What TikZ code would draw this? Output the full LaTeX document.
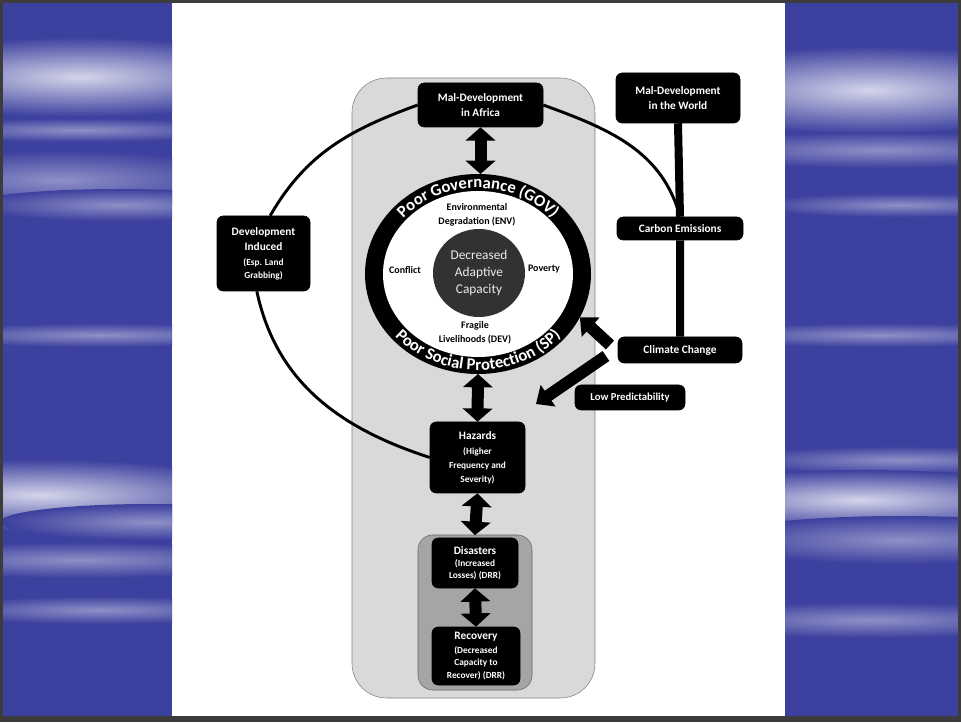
\documentclass[tikz,border=0pt]{standalone}
\usepackage{fontspec}
\setmainfont{Carlito}
\usetikzlibrary{arrows.meta,shapes.geometric,decorations.text}
\definecolor{panelblue}{RGB}{60,64,158}
\definecolor{framegray}{RGB}{60,60,60}
\definecolor{boxgray}{RGB}{217,217,217}
\definecolor{innergray}{RGB}{165,165,165}
\definecolor{coregray}{RGB}{50,50,50}
\newcommand{\headfont}{\fontsize{8.5}{11.5}\selectfont\bfseries}
\newcommand{\subfont}{\fontsize{7}{9}\selectfont\bfseries}
\newcommand{\labfont}{\fontsize{7.5}{10.5}\selectfont\bfseries}
\newcommand{\ringfont}{\fontsize{12.5}{14}\selectfont\bfseries}
\tikzset{
  blackbox/.style={draw=black, fill=black, text=white, rounded corners=4.5pt, align=center, inner sep=1pt, font=\headfont},
  dblarrow/.style={line width=9pt, {Triangle[length=10pt,width=22pt]}-{Triangle[length=10pt,width=22pt]}},
  sglarrow/.style={line width=9pt, -{Triangle[length=11pt,width=19pt]}},
  loopline/.style={line width=2.2pt},
  streak/.style={inner color=white!78!panelblue, outer color=panelblue},
  faint/.style={inner color=white!42!panelblue, outer color=panelblue},
  ringlabel/.style={font=\labfont, align=center, inner sep=0pt},
}
\begin{document}
\begin{tikzpicture}[x=0.75pt, y=0.75pt]
\useasboundingbox (0,0) rectangle (961,722);
% slide background
\fill[framegray] (0,0) rectangle (961,722);
\fill[panelblue] (3,6) rectangle (172,719);
\fill[panelblue] (785,6) rectangle (958,719);
\fill[white] (172,6) rectangle (785,719);
\begin{scope}
  \clip (3,6) rectangle (172,719);
  \shade[streak] (80,645) ellipse [x radius=220, y radius=40];
  \shade[faint] (80,592) ellipse [x radius=170, y radius=12];
  \shade[faint] (60,542) ellipse [x radius=190, y radius=30];
  \shade[faint] (120,517) ellipse [x radius=150, y radius=16];
  \shade[faint] (100,387) ellipse [x radius=190, y radius=12];
  \shade[streak] (40,227) ellipse [x radius=230, y radius=36];
  \shade[faint] (150,200) ellipse [x radius=150, y radius=18];
  \shade[faint] (80,162) ellipse [x radius=210, y radius=18];
  \shade[faint] (100,112) ellipse [x radius=170, y radius=14];
\end{scope}
\begin{scope}
  \clip (785,6) rectangle (958,719);
  \shade[streak] (870,632) ellipse [x radius=220, y radius=44];
  \shade[faint] (880,572) ellipse [x radius=200, y radius=18];
  \shade[faint] (900,517) ellipse [x radius=150, y radius=12];
  \shade[faint] (880,387) ellipse [x radius=190, y radius=12];
  \shade[faint] (900,262) ellipse [x radius=170, y radius=14];
  \shade[streak] (860,222) ellipse [x radius=220, y radius=30];
  \shade[faint] (900,182) ellipse [x radius=190, y radius=24];
  \shade[faint] (870,102) ellipse [x radius=200, y radius=18];
\end{scope}
% panels
\draw[gray, fill=boxgray, rounded corners=26pt] (352,24) rectangle (595,644);
\draw[black!60, fill=innergray, rounded corners=11pt] (418,32) rectangle (532,187);
% ring
\node[ellipse, fill=black, minimum width=169.5pt, minimum height=150pt, inner sep=0pt, outer sep=0pt] (ring) at (478,448) {};
\node[ellipse, fill=white, minimum width=142.5pt, minimum height=124.5pt, inner sep=0pt] (ringin) at (478,448) {};
\node[ellipse, fill=coregray, text=black!8, align=center, font=\fontsize{10}{12.75}\selectfont, minimum width=69pt, minimum height=66pt, inner sep=0pt] (core) at (479,449) {Decreased\\Adaptive\\Capacity};
\path[decorate, decoration={text along path, text align=center, text color=white, text={|\ringfont|Poor Governance (GOV)}}]
  (ring.center) ++(175:98 and 86) arc[start angle=175, end angle=5, x radius=98, y radius=86];
\path[decorate, decoration={text along path, text align=center, text color=white, text={|\ringfont|Poor Social Protection (SP)}}]
  (ring.center) ++(185:109 and 96) arc[start angle=185, end angle=355, x radius=109, y radius=96];
\node[ringlabel] (env) at (477,507) {Environmental\\Degradation (ENV)};
\node[ringlabel] (conflict) at (405,452) {Conflict};
\node[ringlabel] (poverty) at (544,453) {Poverty};
\node[ringlabel] (fragile) at (475,389) {Fragile\\Livelihoods (DEV)};
% boxes
\node[blackbox, minimum width=93.75pt, minimum height=33pt] (africa) at (480.5,617) {Mal-Development\\in Africa};
\node[blackbox, minimum width=93pt, minimum height=37.5pt] (world) at (678,624) {Mal-Development\\in the World};
\node[blackbox, minimum width=94.5pt, minimum height=17.25pt] (carbon) at (680,493.5) {Carbon Emissions};
\node[blackbox, minimum width=93pt, minimum height=19.5pt] (climate) at (680,372) {Climate Change};
\node[blackbox, minimum width=82.5pt, minimum height=18.75pt, font=\fontsize{8}{10}\selectfont\bfseries] (lowpred) at (630,324.5) {Low Predictability};
\node[blackbox, minimum width=69.75pt, minimum height=56.25pt] (devind) at (263.5,468.5) {Development\\Induced\\{\subfont(Esp. Land}\\[-2pt]{\subfont Grabbing)}};
\node[blackbox, minimum width=71.25pt, minimum height=53.25pt] (hazards) at (477.5,264.5) {Hazards\\{\subfont(Higher}\\[-1pt]{\subfont Frequency and}\\[-1.5pt]{\subfont Severity)}};
\node[blackbox, minimum width=64.5pt, minimum height=37.5pt] (disasters) at (475,159) {Disasters\\[-2.5pt]{\subfont(Increased}\\[-2.5pt]{\subfont Losses) (DRR)}};
\node[blackbox, minimum width=66pt, minimum height=43.5pt] (recovery) at (476,66) {Recovery\\[-1pt]{\subfont(Decreased}\\[-2pt]{\subfont Capacity to}\\[-2pt]{\subfont Recover) (DRR)}};
% loop
\draw[loopline] (africa.west) to[out=200, in=60] ([xshift=5pt]devind.north);
\draw[loopline] ([xshift=-5pt]devind.south) to[out=-78, in=162] (hazards.west);
\draw[loopline] (africa.east) to[out=-20, in=105] (carbon.north);
\draw[line width=6pt] (world.south) -- (carbon.north) (carbon.south) -- (climate.north);
% arrows
\draw[dblarrow] (africa.south) -- (africa.south |- ring.north);
\draw[dblarrow] (ring.south) -- (hazards.north);
\draw[dblarrow] (hazards.south) -- ([yshift=2pt]disasters.north);
\draw[dblarrow] (disasters.south) -- (recovery.north);
\coordinate (tailA) at (610,377);
\coordinate (tailB) at (606,366);
\coordinate (lowtip) at (536,318);
\draw[sglarrow] (tailA) -- (ring.337);
\draw[sglarrow] (tailB) -- (lowtip);
\end{tikzpicture}
\end{document}
